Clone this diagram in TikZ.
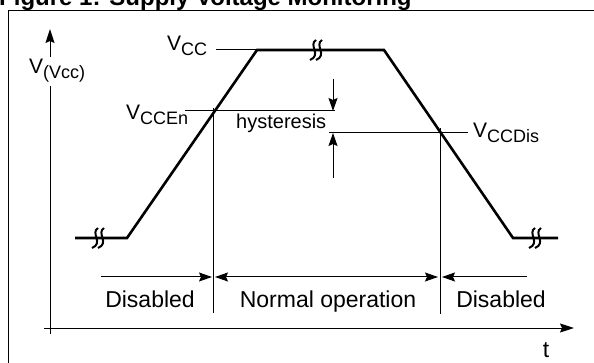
\documentclass[tikz,border=0pt]{standalone}
\usepackage{fontspec}
\setmainfont{Liberation Sans}
\usetikzlibrary{arrows.meta}
\newcommand{\lowsub}[1]{\raisebox{-5pt}{\fontsize{18}{18}\selectfont #1}}
\begin{document}
\begin{tikzpicture}[x=1pt,y=-1pt,
  thinline/.style={line width=1pt},
  wave/.style={line width=2.6pt, line join=miter},
  lbl/.style={font=\fontsize{21}{24}\selectfont, inner sep=0pt},
  hyst/.style={font=\fontsize{20}{24}\selectfont, inner sep=0pt},
  big/.style={font=\fontsize{23}{27}\selectfont, inner sep=0pt},
  tipend/.style={-{Stealth[length=13pt,width=9pt,inset=2pt]}},
  tipboth/.style={{Stealth[length=13pt,width=9pt,inset=2pt]}-{Stealth[length=13pt,width=9pt,inset=2pt]}},
  axtip/.style={-{Stealth[length=14pt,width=9pt,inset=2pt]}},
  brk/.pic={
    \draw[line width=2pt] (1,-10) .. controls (-7,-5) and (7,5) .. (-5,10);
    \draw[line width=2pt] (7,-10) .. controls (-1,-5) and (13,5) .. (1,10);
  }]
\useasboundingbox (0,0) rectangle (594,363);
\clip (0,0) rectangle (594,363);

% title (partly cut off at the top)
\node[anchor=base west, inner sep=0pt, font=\bfseries\fontsize{24}{28}\selectfont] (title) at (-1,6) {Figure 1: Supply Voltage Monitoring};

% frame
\coordinate (fbl) at (8,370);
\coordinate (ftr) at (600,11);
\draw[thinline] (fbl) |- (ftr);

% axes
\coordinate (ybot) at (50,334);
\coordinate (ytop) at (50,29);
\coordinate (xleft) at (44,328);
\coordinate (xright) at (574,328);
\draw[thinline, axtip] (ybot) -- (ytop);
\draw[thinline, axtip] (xleft) -- (xright);
\node[lbl, anchor=base west, fill=white, inner ysep=3pt, inner xsep=1pt] (vlab) at (28,74) {V\lowsub{(Vcc)}};
\node[big, anchor=base] (tlab) at (546,357) {t};

% waveform
\coordinate (w0) at (75,238);
\coordinate (w1) at (127,238);
\coordinate (w2) at (257,50);
\coordinate (w3) at (384,50);
\coordinate (w4) at (513,238);
\coordinate (w5) at (558,238);
\draw[wave] (w0) -- (w1) -- (w2) -- (w3) -- (w4) -- (w5);
\pic at (97,238) {brk};
\pic at (315,50) {brk};
\pic at (534,238) {brk};

% Vcc level
\coordinate (vccl) at (216,50);
\draw[thinline] (vccl) -- (w2);
\node[lbl, anchor=base west] (vcc) at (167,51) {V\lowsub{CC}};

% enable level
\coordinate (en1) at (185,111);
\coordinate (en2) at (335,111);
\draw[thinline] (en1) -- (en2);
\node[lbl, anchor=base west] (vccen) at (126,120) {V\lowsub{CCEn}};

% disable level
\coordinate (dis1) at (329,133);
\coordinate (dis2) at (468,133);
\draw[thinline] (dis1) -- (dis2);
\node[lbl, anchor=base west] (vccdis) at (473,138) {V\lowsub{CCDis}};

% hysteresis
\node[hyst, anchor=base west] (hys) at (236,129) {hysteresis};
\coordinate (h1) at (333,79);
\coordinate (h2) at (333,111);
\coordinate (h3) at (333,178);
\coordinate (h4) at (333,133);
\draw[thinline, tipend] (h1) -- (h2);
\draw[thinline, tipend] (h3) -- (h4);

% vertical markers
\coordinate (m1t) at (213,108);
\coordinate (m1b) at (213,313);
\coordinate (m2t) at (440,128);
\coordinate (m2b) at (440,314);
\draw[thinline] (m1t) -- (m1b);
\draw[thinline] (m2t) -- (m2b);

% state arrows
\coordinate (a1) at (101,277);
\coordinate (a2) at (212,277);
\coordinate (a3) at (215,277);
\coordinate (a4) at (438,277);
\coordinate (a5) at (442,277);
\coordinate (a6) at (527,277);
\draw[thinline, tipend] (a1) -- (a2);
\draw[thinline, tipboth] (a3) -- (a4);
\draw[thinline, tipend] (a6) -- (a5);

\node[big, anchor=base] (dis_l) at (150,307) {Disabled};
\node[big, anchor=base] (normal) at (328,307) {Normal operation};
\node[big, anchor=base] (dis_r) at (501,307) {Disabled};
\end{tikzpicture}
\end{document}
